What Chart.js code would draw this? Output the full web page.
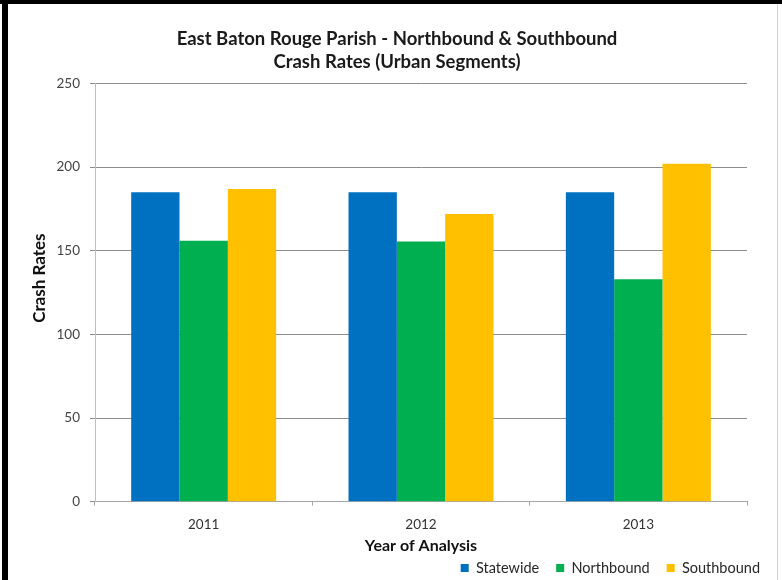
<!DOCTYPE html>
<html>
<head>
<meta charset="utf-8">
<script src="https://cdn.jsdelivr.net/npm/chart.js@4/dist/chart.umd.min.js"></script>
<style>
  html, body { margin: 0; padding: 0; background: #fff; }
  #wrap { position: relative; width: 782px; height: 580px; overflow: hidden; }
  #c { position: absolute; left: 0; top: 0; }
  .b { position: absolute; background: #000; }
</style>
</head>
<body>
<div id="wrap">
  <canvas id="c" width="782" height="580"></canvas>
  <div class="b" style="left:0;top:0;width:782px;height:4px;"></div>
  <div class="b" style="left:2px;top:0;width:6px;height:580px;"></div>
  <div class="b" style="left:777px;top:4px;width:1px;height:576px;background:#d0d0d0;"></div>
</div>
<script>
const categories = ['2011', '2012', '2013'];
const seriesNames = ['Statewide', 'Northbound', 'Southbound'];
const statewide = [185, 185, 185];
const northbound = [156, 155.5, 133];
const southbound = [187, 172, 202];
const titleLines = ['East Baton Rouge Parish - Northbound & Southbound', 'Crash Rates (Urban Segments)'];
const yTitle = '       Crash Rates';
const xTitle = 'Year of Analysis';
const yMax = 250;
const yStep = 50;

const colors = ['#0070C0', '#00B050', '#FFC000'];
const fontFam = 'Lato, "Open Sans", sans-serif';

const legendHeightPlugin = {
  id: 'legendHeight',
  beforeLayout(chart) {
    const lg = chart.legend;
    if (lg && !lg._patched) {
      lg._patched = true;
      const origFit = lg.fit.bind(lg);
      lg.fit = function () { origFit(); this.height = 36.3; };
    }
  }
};

new Chart(document.getElementById('c'), {
  type: 'bar',
  data: {
    labels: categories,
    datasets: [
      { label: seriesNames[0], data: statewide, backgroundColor: colors[0] },
      { label: seriesNames[1], data: northbound, backgroundColor: colors[1] },
      { label: seriesNames[2], data: southbound, backgroundColor: colors[2] }
    ]
  },
  options: {
    responsive: false,
    animation: false,
    devicePixelRatio: 1,
    layout: { padding: { left: 17, right: 5, top: 4, bottom: 0 } },
    datasets: { bar: { categoryPercentage: 0.667, barPercentage: 1.0 } },
    plugins: {
      title: {
        display: true,
        text: titleLines,
        color: '#1a1a1a',
        font: { family: fontFam, size: 18.5, weight: 'bold', lineHeight: '23px' },
        padding: { top: 23.5, bottom: 10 }
      },
      legend: {
        display: true,
        position: 'bottom',
        align: 'end',
        labels: {
          boxWidth: 8,
          boxHeight: 8,
          padding: 17,
          color: '#262626',
          font: { family: fontFam, size: 14.5 }
        }
      },
      tooltip: { enabled: false }
    },
    scales: {
      x: {
        grid: { display: true, drawOnChartArea: false, drawTicks: true, tickLength: 4, color: '#a6a6a6', offset: true },
        border: { display: true, color: '#a6a6a6' },
        ticks: { color: '#333', font: { family: fontFam, size: 13.5 }, padding: 11 },
        title: { display: true, text: xTitle, color: '#111', font: { family: fontFam, size: 16, weight: 'bold', lineHeight: 1 }, padding: { top: 0, bottom: -10.3 } },
        afterFit(s) { s.height = 42; }
      },
      y: {
        min: 0,
        max: yMax,
        ticks: { stepSize: yStep, color: '#444', font: { family: fontFam, size: 13.5 }, padding: 10 },
        grid: { color: '#8c8c8c', tickLength: 5, drawTicks: true },
        border: { display: true, color: '#bfbfbf' },
        title: { display: true, text: yTitle, color: '#111', font: { family: fontFam, size: 17, weight: 'bold', lineHeight: 1.2 }, padding: { top: 12.8, bottom: 0 } },
        afterFit(s) { s.width = 78; }
      },
      yr: {
        position: 'right',
        display: true,
        grid: { display: false },
        border: { display: false },
        ticks: { display: false },
        afterFit(s) { s.width = 30; }
      }
    }
  },
  plugins: [legendHeightPlugin]
});
</script>
</body>
</html>
